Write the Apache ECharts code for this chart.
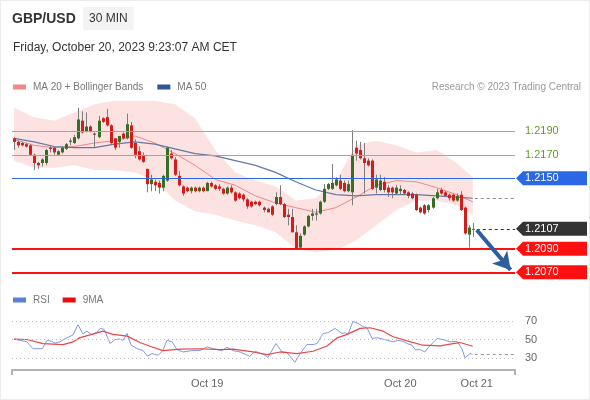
<!DOCTYPE html>
<html>
<head>
<meta charset="utf-8">
<title>GBP/USD 30 MIN</title>
<script src="https://cdn.jsdelivr.net/npm/echarts@6/dist/echarts.min.js"></script>
<style>
  html, body { margin: 0; padding: 0; background: #fff; }
  #chart { position: absolute; left: 0; top: 0; width: 590px; height: 400px; }
  #frame { position: absolute; left: 0; top: 0; width: 590px; height: 400px; box-sizing: border-box; border: 1px solid #ececec; pointer-events: none; }
</style>
</head>
<body>
<div id="chart"></div>
<div id="frame"></div>
<script>
// candles: [open, close, low, high], 30 min, first one = Oct 18 00:00
const ohlc = [
  [1.2184, 1.2181, 1.2174, 1.2185], [1.2181, 1.2178, 1.2176, 1.2182], [1.2180, 1.2178, 1.2177, 1.2181],
  [1.2179, 1.2177, 1.2176, 1.2180], [1.2178, 1.2170, 1.2169, 1.2179], [1.2170, 1.2163, 1.2157, 1.2171],
  [1.2163, 1.2161, 1.2158, 1.2164], [1.2163, 1.2166, 1.2160, 1.2167], [1.2163, 1.2174, 1.2161, 1.2175],
  [1.2176, 1.2175, 1.2172, 1.2178], [1.2176, 1.2172, 1.2170, 1.2177], [1.2170, 1.2173, 1.2169, 1.2174],
  [1.2172, 1.2176, 1.2171, 1.2177], [1.2175, 1.2179, 1.2174, 1.2180], [1.2181, 1.2182, 1.2178, 1.2184],
  [1.2180, 1.2185, 1.2179, 1.2187], [1.2184, 1.2200, 1.2183, 1.2210], [1.2199, 1.2189, 1.2188, 1.2207],
  [1.2190, 1.2194, 1.2189, 1.2206], [1.2194, 1.2190, 1.2189, 1.2195], [1.2188, 1.2187, 1.2176, 1.2189],
  [1.2185, 1.2199, 1.2184, 1.2203], [1.2201, 1.2198, 1.2197, 1.2202], [1.2202, 1.2195, 1.2194, 1.2209],
  [1.2195, 1.2180, 1.2179, 1.2196], [1.2184, 1.2176, 1.2174, 1.2184], [1.2181, 1.2186, 1.2176, 1.2186],
  [1.2188, 1.2184, 1.2183, 1.2189], [1.2184, 1.2196, 1.2183, 1.2205], [1.2195, 1.2176, 1.2175, 1.2198],
  [1.2180, 1.2170, 1.2167, 1.2183], [1.2173, 1.2166, 1.2165, 1.2177], [1.2169, 1.2164, 1.2163, 1.2172],
  [1.2158, 1.2145, 1.2138, 1.2158], [1.2145, 1.2149, 1.2139, 1.2153], [1.2147, 1.2144, 1.2139, 1.2149],
  [1.2146, 1.2142, 1.2137, 1.2148], [1.2142, 1.2152, 1.2139, 1.2153], [1.2148, 1.2176, 1.2147, 1.2177],
  [1.2171, 1.2167, 1.2166, 1.2174], [1.2166, 1.2153, 1.2152, 1.2168], [1.2152, 1.2144, 1.2143, 1.2156],
  [1.2143, 1.2137, 1.2135, 1.2144], [1.2142, 1.2139, 1.2138, 1.2143], [1.2139, 1.2142, 1.2137, 1.2143],
  [1.2142, 1.2139, 1.2138, 1.2143], [1.2139, 1.2142, 1.2138, 1.2143], [1.2142, 1.2139, 1.2138, 1.2143],
  [1.2139, 1.2146, 1.2139, 1.2147], [1.2146, 1.2143, 1.2142, 1.2147], [1.2144, 1.2141, 1.2140, 1.2145],
  [1.2143, 1.2141, 1.2139, 1.2145], [1.2141, 1.2137, 1.2136, 1.2142], [1.2137, 1.2142, 1.2136, 1.2143],
  [1.2142, 1.2138, 1.2137, 1.2144], [1.2138, 1.2131, 1.2130, 1.2139], [1.2137, 1.2133, 1.2132, 1.2138],
  [1.2136, 1.2132, 1.2130, 1.2137], [1.2132, 1.2126, 1.2124, 1.2133], [1.2130, 1.2126, 1.2125, 1.2131],
  [1.2130, 1.2128, 1.2127, 1.2131], [1.2130, 1.2127, 1.2126, 1.2131], [1.2125, 1.2123, 1.2121, 1.2126],
  [1.2124, 1.2121, 1.2121, 1.2125], [1.2126, 1.2119, 1.2118, 1.2127], [1.2128, 1.2134, 1.2127, 1.2138],
  [1.2134, 1.2128, 1.2127, 1.2144], [1.2128, 1.2117, 1.2116, 1.2129], [1.2119, 1.2117, 1.2110, 1.2124],
  [1.2117, 1.2104, 1.2104, 1.2124], [1.2104, 1.2090, 1.2089, 1.2110], [1.2091, 1.2101, 1.2090, 1.2103],
  [1.2102, 1.2109, 1.2101, 1.2110], [1.2109, 1.2118, 1.2108, 1.2119], [1.2118, 1.2120, 1.2114, 1.2124],
  [1.2119, 1.2120, 1.2114, 1.2124], [1.2120, 1.2130, 1.2119, 1.2131], [1.2130, 1.2141, 1.2129, 1.2145],
  [1.2141, 1.2145, 1.2140, 1.2146], [1.2141, 1.2146, 1.2140, 1.2162], [1.2144, 1.2149, 1.2143, 1.2151],
  [1.2148, 1.2141, 1.2140, 1.2153], [1.2146, 1.2139, 1.2138, 1.2148], [1.2139, 1.2145, 1.2138, 1.2148],
  [1.2138, 1.2170, 1.2127, 1.2191], [1.2176, 1.2171, 1.2165, 1.2182], [1.2174, 1.2167, 1.2166, 1.2181],
  [1.2167, 1.2163, 1.2137, 1.2180], [1.2165, 1.2161, 1.2160, 1.2167], [1.2165, 1.2141, 1.2140, 1.2166],
  [1.2142, 1.2149, 1.2137, 1.2153], [1.2140, 1.2148, 1.2139, 1.2153], [1.2147, 1.2140, 1.2138, 1.2151],
  [1.2142, 1.2138, 1.2134, 1.2144], [1.2142, 1.2138, 1.2133, 1.2143], [1.2137, 1.2142, 1.2136, 1.2144],
  [1.2139, 1.2141, 1.2136, 1.2144], [1.2140, 1.2137, 1.2136, 1.2141], [1.2138, 1.2135, 1.2133, 1.2139],
  [1.2137, 1.2133, 1.2132, 1.2138], [1.2136, 1.2123, 1.2122, 1.2137], [1.2125, 1.2121, 1.2120, 1.2126],
  [1.2127, 1.2120, 1.2119, 1.2128], [1.2123, 1.2127, 1.2121, 1.2128], [1.2125, 1.2133, 1.2124, 1.2134],
  [1.2133, 1.2138, 1.2132, 1.2141], [1.2140, 1.2137, 1.2136, 1.2142], [1.2138, 1.2135, 1.2134, 1.2139],
  [1.2136, 1.2133, 1.2131, 1.2137], [1.2136, 1.2131, 1.2130, 1.2137], [1.2131, 1.2135, 1.2130, 1.2137],
  [1.2136, 1.2123, 1.2122, 1.2139], [1.2125, 1.2103, 1.2102, 1.2126], [1.2102, 1.2108, 1.2091, 1.2110],
  [1.2107, 1.2107, 1.2100, 1.2112]
]

// indicator values read every 5 candles
const bandIdx = [0, 5, 10, 15, 20, 25, 30, 35, 40, 45, 50, 55, 60, 65, 70, 75, 80, 85, 90, 95, 100, 105, 110, 114]
const bbUpper = [1.2210, 1.2202, 1.2199, 1.2206, 1.2213, 1.2216, 1.2216, 1.2216, 1.2213, 1.2201, 1.2174, 1.2155,
  1.2148, 1.2143, 1.2131, 1.2133, 1.2148, 1.2178, 1.2182, 1.2178, 1.2172, 1.2174, 1.2163, 1.2151]
const bbLower = [1.2165, 1.2159, 1.2159, 1.2161, 1.2157, 1.2157, 1.2155, 1.2148, 1.2131, 1.2122, 1.2119, 1.2114,
  1.2110, 1.2104, 1.2090, 1.2087, 1.2089, 1.2097, 1.2110, 1.2123, 1.2131, 1.2131, 1.2127, 1.2119]
const ma20 = [1.2183, 1.2178, 1.2176, 1.2177, 1.2180, 1.2182, 1.2186, 1.2180, 1.2171, 1.2161, 1.2149, 1.2144,
  1.2135, 1.2129, 1.2125, 1.2121, 1.2125, 1.2134, 1.2144, 1.2148, 1.2147, 1.2142, 1.2136, 1.2130]
const ma50 = [1.2184, 1.2181, 1.2177, 1.2176, 1.2176, 1.2179, 1.2181, 1.2179, 1.2175, 1.2171, 1.2169, 1.2165,
  1.2161, 1.2155, 1.2147, 1.2140, 1.2136, 1.2135, 1.2136, 1.2136, 1.2136, 1.2135, 1.2134, 1.2133]

// RSI and its 9 period average: [candle index, value]
const rsi = [
  [0, 50.4], [3.2, 47.5], [4.7, 40], [7, 40], [8.2, 49], [9.4, 48], [10.2, 46], [11.4, 47.5], [13.2, 52],
  [14.7, 55], [15.9, 66], [17.1, 56], [18.1, 59], [19.4, 55], [20.6, 58], [21.4, 62], [22.4, 61], [23.9, 45.6],
  [25.1, 50], [26.3, 50.4], [27.1, 49], [28.1, 56.5], [29.1, 44], [30.6, 40], [32.1, 38], [33.1, 32],
  [34.3, 34.7], [35.8, 33], [37, 38], [38, 49], [39.3, 47.5], [40.5, 39], [42, 36.5], [44.2, 38], [46.2, 38],
  [48, 42], [49.5, 40], [51.7, 38], [52.9, 41.6], [54.4, 38], [56.2, 36.5], [58.6, 31.8], [59.9, 37.3],
  [61.9, 34], [63.1, 30.7], [65.1, 45.6], [66.6, 36.5], [67.8, 36], [69.8, 25.3], [71.1, 34.7], [72.8, 44.5],
  [74.3, 44.5], [75.3, 45.6], [76.8, 56.5], [78, 57.3], [79.8, 62], [81.5, 56.5], [82.3, 57.3], [83, 55.5],
  [84.2, 69.3], [85.5, 67.5], [86.7, 64], [87.7, 62.7], [89, 51], [90.2, 52], [91.7, 50.4], [94.2, 47.5],
  [95.4, 49], [96.7, 48], [97.7, 45.6], [98.9, 43.8], [99.7, 39], [100.9, 39], [102.1, 36.5], [102.9, 41],
  [105.1, 51], [106.6, 50], [108.3, 47.5], [110.1, 48], [111.3, 40], [112.1, 30], [113.3, 34.7], [114, 34]
]
const rsiMa = [
  [0, 50.4], [3.2, 50], [7.2, 45.6], [12.2, 44.5], [14.7, 47.5], [16.4, 52], [18.9, 55], [22.1, 59],
  [24.6, 55.5], [28.1, 53.6], [31.3, 46.7], [33.8, 42.7], [37, 38], [41.3, 39.5], [46.2, 40], [51.2, 39],
  [54.4, 39.5], [59.4, 36.5], [62.9, 33.6], [66.1, 36.5], [70.3, 34.7], [74.3, 37.3], [77.8, 43], [80.3, 51.8],
  [82.8, 55.5], [86, 62], [88.5, 62.7], [91.7, 59], [94.2, 53], [97.7, 48.5], [101.6, 43.8], [105.9, 43],
  [109.1, 45.6], [110.8, 46.7], [114, 42.7]
]

// key levels and current values
const resistances = [1.2190, 1.2170]
const pivot = 1.2150
const supports = [1.2090, 1.2070]
const lastPrice = 1.2107
const lastMa50 = 1.2133
const lastRsi = 33.6
const rsiLevels = [70, 50, 30]
const target = [1.2106, 1.2072]

// x axis labels
const dateIdx = [48, 96, 115]
const dateText = ['Oct 19', 'Oct 20', 'Oct 21']

const SLOTS = 125
const X0 = -0.5, X1 = SLOTS - 0.5
const GREEN = '#356f22', RED = '#d71a1a'
const FONT = 'Arial, "Liberation Sans", sans-serif'
const TAG = 'path://M0,7L7,0L71,0L71,14L7,14Z'

const chart = echarts.init(document.getElementById('chart'), null, { renderer: 'canvas' })

// 画K线
const renderCandle = (params, api) => {
  const i = api.value(0)
  const o = api.value(1), c = api.value(2), l = api.value(3), h = api.value(4)
  const pO = api.coord([i, o]), pC = api.coord([i, c])
  const pL = api.coord([i, l]), pH = api.coord([i, h])
  const x = Math.round(pO[0]) + 0.5
  const top = Math.min(pO[1], pC[1])
  const hgt = Math.max(Math.abs(pO[1] - pC[1]), 1)
  return {
    type: 'group',
    children: [
      { type: 'line', shape: { x1: x, y1: pH[1], x2: x, y2: pL[1] }, style: { stroke: '#7d7d7d', lineWidth: 1 } },
      { type: 'rect', shape: { x: x - 1.5, y: top, width: 3, height: hgt }, style: { fill: c >= o ? GREEN : RED } }
    ]
  }
}

// 布林带
const renderBand = (params, api) => {
  const pts = []
  bbUpper.forEach((v, k) => pts.push(api.coord([bandIdx[k], v])))
  for (let k = bbLower.length - 1; k >= 0; k--) pts.push(api.coord([bandIdx[k], bbLower[k]]))
  return { type: 'polygon', shape: { points: pts }, style: { fill: 'rgba(250,165,165,0.32)' } }
}

const fullLine = (v, opt) => [
  { coord: [X0, v], symbol: 'none' },
  Object.assign({ coord: [X1, v] }, opt)
]

const tagEnd = () => ({
  symbol: TAG, symbolSize: [71, 14], symbolRotate: 0, symbolOffset: [36.5, 0], symbolKeepAspect: false
})

const levelLines = []
resistances.forEach(v => {
  const ls = { color: '#8dbf55', width: 1, type: 'solid' }
  const item = fullLine(v, { symbol: 'none', lineStyle: ls })
  item[0].lineStyle = ls
  item[0].label = { show: true, position: 'end', distance: 10, formatter: v.toFixed(4), color: '#5f9e22', fontSize: 11 }
  levelLines.push(item)
})
{
  const item = fullLine(pivot, tagEnd())
  item[0].lineStyle = { color: '#2a68e6', width: 1, type: 'solid' }
  item[0].label = { show: true, position: 'end', distance: 10, formatter: pivot.toFixed(4), color: '#fff', fontSize: 11 }
  levelLines.push(item)
}
supports.forEach(v => {
  const item = fullLine(v, tagEnd())
  item[0].lineStyle = { color: '#ff1010', width: 2, type: 'solid' }
  item[0].label = { show: true, position: 'end', distance: 10, formatter: v.toFixed(4), color: '#fff', fontSize: 11 }
  levelLines.push(item)
})
levelLines.push([
  { coord: [ohlc.length, lastPrice], symbol: 'none', lineStyle: { color: '#333', width: 1, type: [3, 3] },
    label: { show: true, position: 'end', distance: 10, formatter: lastPrice.toFixed(4), color: '#fff', fontSize: 11 } },
  Object.assign({ coord: [X1, lastPrice] }, tagEnd())
])
levelLines.push([
  { coord: [ohlc.length - 0.5, lastMa50], symbol: 'none', lineStyle: { color: '#888', width: 1, type: [3, 3] }, label: { show: false } },
  { coord: [X1, lastMa50], symbol: 'none' }
])

const rsiLines = rsiLevels.map(v => [
  { coord: [X0, v], symbol: 'none', lineStyle: { color: '#bdbdbd', width: 1, type: [1, 3] },
    label: { show: true, position: 'end', distance: 10, formatter: String(v), color: '#666', fontSize: 11 } },
  { coord: [X1, v], symbol: 'none' }
])
rsiLines.push([
  { coord: [ohlc.length - 0.5, lastRsi], symbol: 'none', lineStyle: { color: '#999', width: 1, type: [3, 3] }, label: { show: false } },
  { coord: [X1, lastRsi], symbol: 'none' }
])

const option = {
  animation: false,
  textStyle: { fontFamily: FONT },
  title: [
    { text: 'GBP/USD', left: 12, top: 12, padding: 0, textStyle: { fontSize: 14, fontWeight: 'bold', color: '#333', fontFamily: FONT } },
    { text: '30 MIN', left: 83, top: 7, padding: [6, 6, 5, 6], backgroundColor: '#f3f3f3',
      textStyle: { fontSize: 12, fontWeight: 'normal', color: '#333', fontFamily: FONT } },
    { text: 'Friday, October 20, 2023 9:23:07 AM CET', left: 13, top: 42, padding: 0,
      textStyle: { fontSize: 12, fontWeight: 'normal', color: '#333', fontFamily: FONT } },
    { text: 'Research © 2023 Trading Central', right: 9, top: 82, padding: 0,
      textStyle: { fontSize: 10, fontWeight: 'normal', color: '#9a9a9a', fontFamily: FONT } }
  ],
  legend: [
    { data: ['MA 20 + Bollinger Bands', 'MA 50'], left: 13, top: 82, padding: 0, itemGap: 14,
      icon: 'rect', itemWidth: 13, itemHeight: 5, textStyle: { fontSize: 10, color: '#777', padding: [0, 0, 0, 2] } },
    { data: ['RSI', '9MA'], left: 13, top: 295, padding: 0, itemGap: 13,
      icon: 'rect', itemWidth: 13, itemHeight: 5, textStyle: { fontSize: 10, color: '#777', padding: [0, 0, 0, 2] } }
  ],
  grid: [
    { left: 12, right: 75, top: 96, height: 188 },
    { left: 12, right: 75, top: 302.5, height: 67.5 }
  ],
  xAxis: [
    { type: 'value', gridIndex: 0, min: X0, max: X1, show: false },
    { type: 'value', gridIndex: 1, min: X0, max: X1,
      axisLine: { show: true, lineStyle: { color: '#b3b3b3', width: 2 } },
      axisTick: { show: true, customValues: [X0, X1], length: 5, lineStyle: { color: '#b3b3b3', width: 2 } },
      axisLabel: { show: true, customValues: dateIdx, margin: 8, color: '#666', fontSize: 11,
        formatter: v => dateText[dateIdx.indexOf(v)] || '' },
      splitLine: { show: false } }
  ],
  yAxis: [
    { type: 'value', gridIndex: 0, min: 1.2060, max: 1.2220, show: false, splitLine: { show: false } },
    { type: 'value', gridIndex: 1, min: 17, max: 90, show: false, splitLine: { show: false } }
  ],
  series: [
    { type: 'custom', name: 'band', xAxisIndex: 0, yAxisIndex: 0, z: 1, silent: true,
      renderItem: renderBand, data: [[0, bbUpper[0]]], encode: { x: 0, y: 1 } },
    { type: 'line', name: 'MA 20 + Bollinger Bands', xAxisIndex: 0, yAxisIndex: 0, z: 2, showSymbol: false,
      itemStyle: { color: '#f78686' }, lineStyle: { color: '#f08585', width: 1 },
      data: ma20.map((v, k) => [bandIdx[k], v]) },
    { type: 'line', name: 'MA 50', xAxisIndex: 0, yAxisIndex: 0, z: 2, showSymbol: false,
      itemStyle: { color: '#2d5797' }, lineStyle: { color: '#6178a8', width: 1.2 },
      data: ma50.map((v, k) => [bandIdx[k], v]),
      markLine: { silent: true, symbol: ['none', 'none'], animation: false, data: levelLines } },
    { type: 'custom', name: 'GBP/USD', xAxisIndex: 0, yAxisIndex: 0, z: 3,
      renderItem: renderCandle, encode: { x: 0, y: [1, 2, 3, 4] },
      data: ohlc.map((d, i) => [i, d[0], d[1], d[2], d[3]]),
      markLine: { silent: true, animation: false, symbol: ['none', 'arrow'], symbolSize: [15, 17],
        lineStyle: { color: '#2f5e9e', width: 4, type: 'solid' }, label: { show: false },
        data: [[{ coord: [ohlc.length, target[0]] }, { coord: [SLOTS - 1.6, target[1]] }]] } },
    { type: 'line', name: 'RSI', xAxisIndex: 1, yAxisIndex: 1, z: 2, showSymbol: false,
      itemStyle: { color: '#5b7fd8' }, lineStyle: { color: '#8398e0', width: 1 }, data: rsi,
      markLine: { silent: true, symbol: ['none', 'none'], animation: false, data: rsiLines } },
    { type: 'line', name: '9MA', xAxisIndex: 1, yAxisIndex: 1, z: 3, showSymbol: false,
      itemStyle: { color: '#e80c0c' }, lineStyle: { color: '#e8474a', width: 1.2 }, data: rsiMa }
  ]
}

chart.setOption(option)
window.addEventListener('resize', () => chart.resize())
</script>
</body>
</html>
